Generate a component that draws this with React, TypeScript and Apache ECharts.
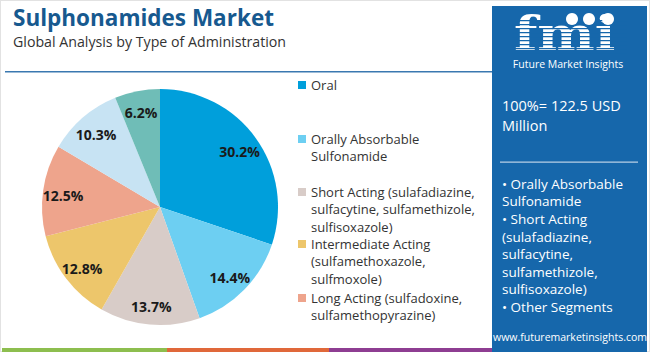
import React, { useEffect, useRef } from "react";
import * as echarts from "echarts";

const categories = [
  "Oral",
  "Orally Absorbable\nSulfonamide",
  "Short Acting (sulafadiazine,\nsulfacytine, sulfamethizole,\nsulfisoxazole)",
  "Intermediate Acting\n(sulfamethoxazole,\nsulfmoxole)",
  "Long Acting (sulfadoxine,\nsulfamethopyrazine)",
  "Other A",
  "Other B",
];
const values = [30.2, 14.4, 13.7, 12.8, 12.5, 10.3, 6.2];
const colors = ["#009FDB", "#6DCFF2", "#D8CCC8", "#EDC66B", "#EEA48C", "#C7E3F3", "#6FBDB7"];
const legendCount = 5;
const legendCenters = [85, 139, 192, 244, 298];
const panelLines = [
  "• Orally Absorbable",
  "Sulfonamide",
  "• Short Acting",
  "(sulafadiazine,",
  "sulfacytine,",
  "sulfamethizole,",
  "sulfisoxazole)",
  "• Other Segments",
];

const FONT = '"Open Sans", sans-serif';

export default function App() {
  const ref = useRef<HTMLDivElement>(null);
  useEffect(() => {
    document.body.style.margin = "0";
    const chart = echarts.init(ref.current!, null, { renderer: "svg" });
    const LH = 17.4;

    const legendGraphics: any[] = [];
    categories.slice(0, legendCount).forEach((name, i) => {
      const c = legendCenters[i];
      legendGraphics.push({
        type: "rect",
        shape: { x: 298, y: c - 4, width: 8, height: 8 },
        style: { fill: colors[i] },
      });
      legendGraphics.push({
        type: "text",
        x: 311,
        y: c - LH / 2,
        style: {
          text: name,
          fontFamily: FONT,
          fontSize: 13,
          lineHeight: LH,
          fill: "#333",
          verticalAlign: "top",
        },
      });
    });

    const stripes: any[] = [];
    for (let y = 20; y < 56; y += 4) {
      stripes.push({
        type: "rect",
        shape: { x: 512, y, width: 115, height: 1.2 },
        style: { fill: "#1667AB" },
      });
    }

    const graphics: any[] = [
      { type: "rect", shape: { x: 0, y: 0, width: 650, height: 352 }, style: { fill: "#fff", stroke: "#e2e2e2", lineWidth: 2 }, z: -10 },
      { type: "text", x: 13, y: 17, style: { text: "Sulphonamides Market", fontFamily: FONT, fontWeight: "bold", fontSize: 22.5, lineHeight: 24, verticalAlign: "middle", fill: "#17598F" } },
      { type: "text", x: 13, y: 41.5, style: { text: "Global Analysis by Type of Administration", fontFamily: FONT, fontSize: 14.2, lineHeight: 16, verticalAlign: "middle", fill: "#333" } },
      { type: "rect", shape: { x: 5, y: 71, width: 487, height: 1.5 }, style: { fill: "#3A78B0" } },
      { type: "rect", shape: { x: 2, y: 348, width: 165, height: 4 }, style: { fill: "#8DBE4F" } },
      { type: "rect", shape: { x: 167, y: 348, width: 162, height: 4 }, style: { fill: "#E0683A" } },
      { type: "rect", shape: { x: 329, y: 348, width: 163, height: 4 }, style: { fill: "#8E3E92" } },
      { type: "rect", shape: { x: 492, y: 6, width: 155, height: 346 }, style: { fill: "#1667AB" } },
      { type: "text", x: 514, y: 34, scaleX: 1.18, style: { text: "fmi", fontFamily: '"DejaVu Serif", serif', fontWeight: "bold", fontSize: 46, lineHeight: 36, fill: "#fff", verticalAlign: "middle" } },
      ...stripes,
      { type: "circle", shape: { cx: 572, cy: 19, r: 6 }, style: { fill: "#fff" } },
      { type: "circle", shape: { cx: 589, cy: 19, r: 6 }, style: { fill: "#fff" } },
      { type: "circle", shape: { cx: 608, cy: 19, r: 6 }, style: { fill: "#fff" } },
      { type: "text", x: 568, y: 64, style: { text: "Future Market Insights", fontFamily: FONT, fontSize: 10.5, lineHeight: 11, fill: "#fff", align: "center", verticalAlign: "middle" } },
      { type: "text", x: 502, y: 95, style: { text: "100%= 122.5 USD\nMillion", fontFamily: FONT, fontSize: 14.5, lineHeight: 20, fill: "#fff" } },
      { type: "rect", shape: { x: 500, y: 161.5, width: 138, height: 1.2 }, style: { fill: "#B8CFE6" } },
      { type: "text", x: 502, y: 175, style: { text: panelLines.join("\n"), fontFamily: FONT, fontSize: 13.5, lineHeight: 17.6, fill: "#fff" } },
      { type: "text", x: 570, y: 337, style: { text: "www.futuremarketinsights.com", fontFamily: FONT, fontSize: 10.5, fill: "#fff", align: "center", verticalAlign: "middle" } },
      ...legendGraphics,
    ];

    chart.setOption({
      animation: false,
      graphic: graphics,
      series: [
        {
          type: "pie",
          center: [160, 207],
          radius: [0, 118],
          startAngle: 90,
          silent: true,
          label: { show: false },
          labelLine: { show: false },
          data: categories.map((name, i) => ({ name, value: values[i], itemStyle: { color: colors[i] } })),
        },
        {
          type: "pie",
          center: [160, 209],
          radius: [72, 118],
          startAngle: 90,
          silent: true,
          itemStyle: { color: "rgba(0,0,0,0)" },
          label: {
            show: true,
            position: "inside",
            fontFamily: FONT,
            fontWeight: "bold",
            fontSize: 14,
            color: "#1a1a1a",
            formatter: (p: any) => p.value.toFixed(1) + "%",
          },
          labelLine: { show: false },
          data: values.map((v, i) => ({ name: "lbl" + i, value: v })),
        },
      ],
    });
    return () => chart.dispose();
  }, []);
  return <div ref={ref} style={{ width: 650, height: 352 }} />;
}
